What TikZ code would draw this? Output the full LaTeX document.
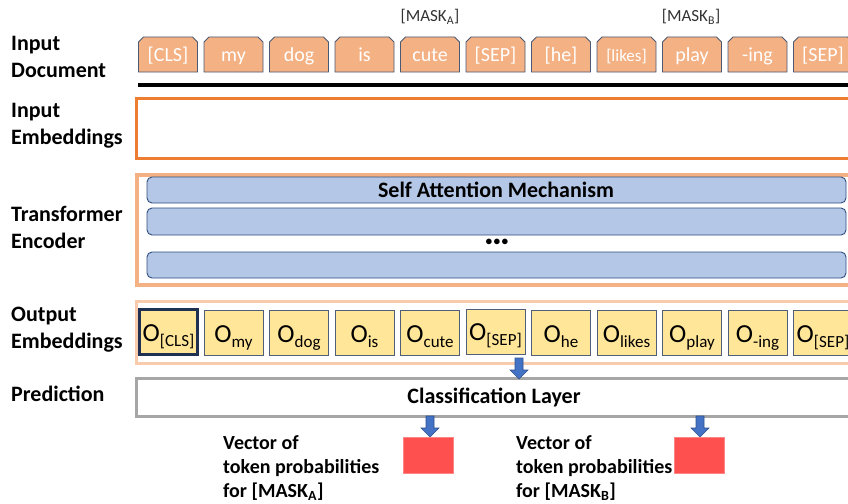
\documentclass[tikz,border=0pt]{standalone}
\usepackage{fontspec}
\setmainfont{Carlito}
\usetikzlibrary{shapes.misc}

\definecolor{tokfill}{HTML}{F4B183}
\definecolor{tokedge}{HTML}{4A5A75}
\definecolor{embedge}{HTML}{ED7D31}
\definecolor{encedge}{HTML}{F4B183}
\definecolor{outedge}{HTML}{F8CBAD}
\definecolor{predge}{HTML}{A6A6A6}
\definecolor{barfill}{HTML}{B4C7E7}
\definecolor{baredge}{HTML}{2F4F7F}
\definecolor{ofill}{HTML}{FFE699}
\definecolor{oedge}{HTML}{4F5F7A}
\definecolor{clsedge}{HTML}{1F3050}
\definecolor{arrfill}{HTML}{4472C4}
\definecolor{arredge}{HTML}{2F528F}
\definecolor{probfill}{HTML}{FF5050}
\definecolor{masktext}{HTML}{333333}

\newcommand{\fsz}[1]{\fontsize{#1}{#1}\selectfont}
\newcommand{\osub}[1]{O\raisebox{-5pt}{\fsz{17}#1}}

\tikzset{
  rowlabel/.style={anchor=west, align=left, font=\fsz{22}\bfseries, text=black,
                   inner sep=0pt, execute at begin node=\setlength{\baselineskip}{27pt}},
  token/.style={chamfered rectangle, chamfered rectangle corners={north west,north east},
                chamfered rectangle xsep=2.5pt, chamfered rectangle ysep=2.5pt,
                draw=tokedge, line width=0.8pt, fill=tokfill, text=white,
                minimum width=59pt, minimum height=35pt, inner sep=0pt, font=\fsz{20},
                text height=17pt, text depth=2pt},
  obox/.style={draw=oedge, line width=0.9pt, fill=ofill, minimum width=59pt,
               minimum height=45pt, inner sep=0pt, font=\fsz{26},
               text height=20pt, text depth=2pt},
  bar/.style={draw=baredge, line width=0.9pt, fill=barfill, rounded corners=5pt},
  masklabel/.style={font=\fsz{17}, text=masktext, inner sep=0pt},
  probbox/.style={fill=probfill, draw=probfill!70!white, line width=0.5pt},
  vectext/.style={anchor=west, align=left, font=\fsz{20}\bfseries, inner sep=0pt,
                  execute at begin node=\setlength{\baselineskip}{24pt}},
  downarrow/.pic={
    \path[fill=arrfill, draw=arredge, line width=0.6pt]
      (-4,0) -- (4,0) -- (4,12) -- (9,12) -- (0,21) -- (-9,12) -- (-4,12) -- cycle;
  }
}

\begin{document}
\begin{tikzpicture}[x=1pt, y=-1pt]
\clip (0,0) rectangle (848,503);
\fill[white] (0,0) rectangle (848,503);

% row labels
\node[rowlabel] (lbldoc) at (11,56.5) {Input\\Document};
\node[rowlabel] (lblemb) at (11,125.5) {Input\\Embeddings};
\node[rowlabel] (lblenc) at (11,227.5) {Transformer\\Encoder};
\node[rowlabel] (lblout) at (11,329.5) {Output\\Embeddings};
\node[rowlabel] (lblpred) at (11,394) {Prediction};

% input tokens
\foreach \i/\w/\name in {0/{[CLS]}/tcls, 1/my/tmy, 2/dog/tdog, 3/is/tis, 4/cute/tcute,
                         5/{[SEP]}/tsepa, 6/{[he]}/the, 8/play/tplay, 9/-ing/ting, 10/{[SEP]}/tsepb}
  \node[token] (\name) at (168+65.5*\i,54.5) {\w};
\node[token, font=\fsz{17}] (tlikes) at (168+65.5*7,54.5) {[likes]};

% mask labels above the masked tokens
\node[masklabel] (maska) at (430,17) {[MASK\textsubscript{A}]};
\node[masklabel] (maskb) at (691,17) {[MASK\textsubscript{B}]};

% separator rule
\coordinate (rulestart) at (138,85);
\coordinate (ruleend) at (860,85);
\draw[line width=4pt, black] (rulestart) -- (ruleend);

% input embeddings frame
\node[draw=embedge, line width=3pt, minimum width=740pt, minimum height=60pt,
      anchor=north west, inner sep=0pt] (embframe) at (135,97) {};

% transformer encoder
\node[draw=encedge, line width=3.5pt, minimum width=740pt, minimum height=110pt,
      anchor=north west, inner sep=0pt] (encframe) at (135,173) {};
\draw[bar] (147,177) rectangle (846,203);
\node[font=\fsz{22}\bfseries, inner sep=0pt] (selfatt) at (496,190) {Self Attention Mechanism};
\draw[bar] (147,208) rectangle (846,235);
\node[font=\fsz{14}, inner sep=0pt] (dots) at (497,242) {$\bullet\!\bullet\!\bullet$};
\draw[bar] (147,252) rectangle (846,278);

% output embeddings
\node[draw=outedge, line width=3pt, minimum width=740pt, minimum height=62pt,
      anchor=north west, inner sep=0pt] (outframe) at (135,300) {};
\node[obox, draw=clsedge, line width=3pt, minimum width=58pt, minimum height=45pt] (ocls) at (168.5,332) {\osub{[CLS]}};
\foreach \i/\w/\name in {1/my/omy, 2/dog/odog, 3/is/ois, 4/cute/ocute,
                         6/he/ohe, 7/likes/olikes, 8/play/oplay, 9/-ing/oing, 10/{[SEP]}/osepb}
  \node[obox] (\name) at (168+65.5*\i,333) {\osub{\w}};
\node[obox] (osepa) at (495.5,331.5) {\osub{[SEP]}};

% prediction layer
\node[draw=predge, line width=3pt, minimum width=740pt, minimum height=38pt,
      anchor=north west, inner sep=0pt] (predframe) at (135,377) {};
\node[font=\fsz{22}\bfseries, inner sep=0pt] (classlayer) at (494,397) {Classification Layer};

% block arrows
\coordinate (arrin) at (519,358);
\coordinate (arroutA) at (430,416);
\coordinate (arroutB) at (700,416);
\pic at (arrin) {downarrow};
\pic at (arroutA) {downarrow};
\pic at (arroutB) {downarrow};

% probability vectors
\draw[probbox] (403,437) rectangle (453,473);
\draw[probbox] (674,437) rectangle (724,473);
\node[vectext] (veca) at (223,468) {Vector of\\token probabilities\\for [MASK\textsubscript{A}]};
\node[vectext] (vecb) at (516,468) {Vector of\\token probabilities\\for [MASK\textsubscript{B}]};
\end{tikzpicture}
\end{document}
